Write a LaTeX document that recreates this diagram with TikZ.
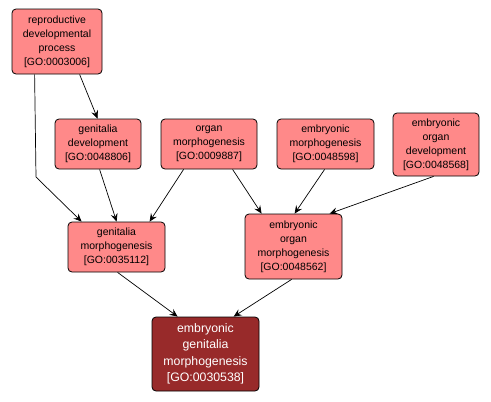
\documentclass[tikz,border=0pt]{standalone}
\usepackage{fontspec}
\setmainfont{Liberation Sans}
\usetikzlibrary{arrows.meta,calc}
\definecolor{boxfill}{RGB}{255,137,137}
\definecolor{darkfill}{RGB}{152,42,42}
\tikzset{
  term/.style={draw=black, line width=0.8pt, rounded corners=4pt, fill=boxfill, align=center, inner sep=0pt,
    font=\fontsize{10.5}{14}\selectfont},
  focus/.style={term, fill=darkfill, text=white, font=\fontsize{12.3}{16.5}\selectfont},
  link/.style={draw=black, line width=0.7pt, -{Stealth[length=8pt,width=7pt,inset=3pt]}}
}
\begin{document}
\begin{tikzpicture}[x=1pt,y=-1pt]
\useasboundingbox (0,0) rectangle (491,402);
\node[term, minimum width=90, minimum height=65] (A) at (57,41.5) {reproductive\\developmental\\process\\{}[GO:0003006]};
\node[term, minimum width=86, minimum height=50] (B) at (98,144) {genitalia\\development\\{}[GO:0048806]};
\node[term, minimum width=96, minimum height=50] (C) at (209,144) {organ\\morphogenesis\\{}[GO:0009887]};
\node[term, minimum width=97, minimum height=50] (D) at (325.5,144) {embryonic\\morphogenesis\\{}[GO:0048598]};
\node[term, minimum width=86, minimum height=63] (E) at (436,144.5) {embryonic\\organ\\development\\{}[GO:0048568]};
\node[term, minimum width=97, minimum height=65] (F) at (293.5,246.5) {embryonic\\organ\\morphogenesis\\{}[GO:0048562]};
\node[term, minimum width=97, minimum height=50] (G) at (116.5,247) {genitalia\\morphogenesis\\{}[GO:0035112]};
\node[focus, minimum width=107, minimum height=74] (H) at (205.5,354) {embryonic\\genitalia\\morphogenesis\\{}[GO:0030538]};
\coordinate (bend) at (36,177);
\draw[link] ($(A.south west)+(68,0)$) -- ($(B.north west)+(43,0)$);
\draw[link] ($(A.south west)+(23,0)$) -- (bend) -- ($(G.north west)+(14,0)$);
\draw[link] ($(B.south west)+(45,0)$) -- ($(G.north west)+(49,0)$);
\draw[link] ($(C.south west)+(23,0)$) -- ($(G.north west)+(82,0)$);
\draw[link] ($(C.south west)+(72,0)$) -- ($(F.north west)+(17,0)$);
\draw[link] ($(D.south west)+(48,0)$) -- ($(F.north west)+(50,0)$);
\draw[link] ($(E.south west)+(41,0)$) -- ($(F.north west)+(85,0)$);
\draw[link] ($(G.south west)+(50,0)$) -- ($(H.north west)+(26,0)$);
\draw[link] ($(F.south west)+(47,0)$) -- ($(H.north west)+(82,0)$);
\end{tikzpicture}
\end{document}
